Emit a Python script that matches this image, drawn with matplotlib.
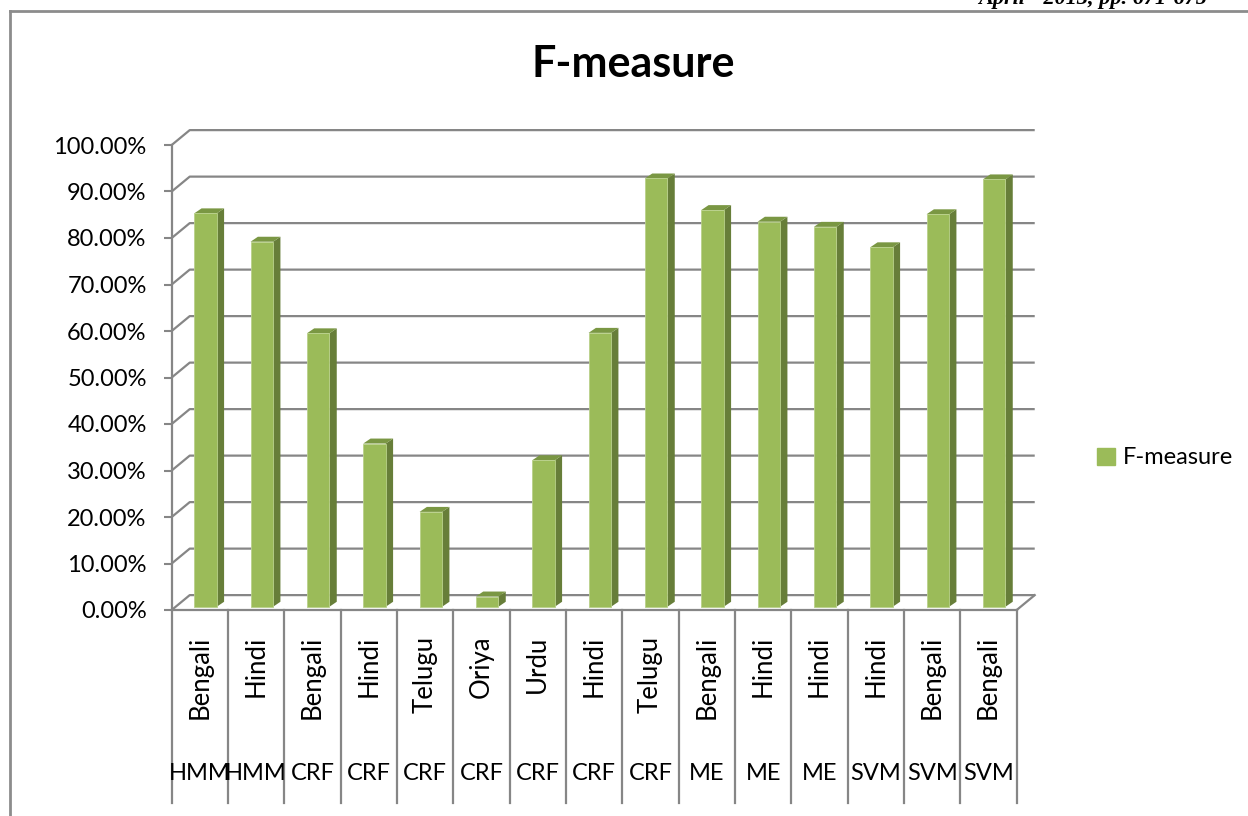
import matplotlib
matplotlib.use("Agg")
import matplotlib.pyplot as plt
from matplotlib.patches import Polygon, Patch
from matplotlib.lines import Line2D

# data
languages = ["Bengali", "Hindi", "Bengali", "Hindi", "Telugu", "Oriya", "Urdu", "Hindi",
             "Telugu", "Bengali", "Hindi", "Hindi", "Hindi", "Bengali", "Bengali"]
methods = ["HMM", "HMM", "CRF", "CRF", "CRF", "CRF", "CRF", "CRF",
           "CRF", "ME", "ME", "ME", "SVM", "SVM", "SVM"]
fmeasure = [84.6, 78.5, 58.8, 35.1, 20.4, 2.2, 31.5, 58.9,
            92.1, 85.3, 82.8, 81.7, 77.3, 84.4, 91.9]
yticks = [0, 10, 20, 30, 40, 50, 60, 70, 80, 90, 100]

plt.rcParams["font.family"] = ["Lato", "DejaVu Sans"]

W, H = 1248, 816
fs = 17
fig = plt.figure(figsize=(W / 100, H / 100), dpi=100)
# front plane of the 3-d box: x 171.7..1016.7 px, y 610..145 px
ax = fig.add_axes([171.7 / W, 1 - 610 / H, 845 / W, 465 / H])
n = len(fmeasure)
ax.set_xlim(0, n)
ax.set_ylim(0, 100)
for s in ax.spines.values():
    s.set_visible(False)
ax.set_xticks([])
ax.set_yticks(yticks)
ax.set_yticklabels(["%.2f%%" % v for v in yticks], fontsize=fs)
ax.tick_params(axis="y", length=6, width=1.5, color="#868686", pad=12)
ax.patch.set_alpha(0)

grid = "#868686"
ddx, ddy = 0.32, 3.2      # depth of the box (category units, percent)
lw = 1.6

# back wall gridlines + side wall diagonals
for v in yticks:
    ax.plot([0, ddx, n + ddx], [v, v + ddy, v + ddy], color=grid, lw=lw,
            clip_on=False, zorder=1, solid_capstyle="butt")
# floor right edge and front edges
ax.plot([n, n + ddx], [0, ddy], color=grid, lw=lw, clip_on=False, zorder=1)
ax.plot([0, n], [0, 0], color=grid, lw=lw, clip_on=False, zorder=1)
ax.plot([0, 0], [0, 100], color=grid, lw=lw, clip_on=False, zorder=1)

# category separators below the floor
sep_bottom = -(803 - 610) / 4.65
for i in range(n + 1):
    ax.plot([i, i], [0, sep_bottom], color=grid, lw=lw, clip_on=False, zorder=1)

# 3-d looking columns
front_c, side_c, top_c = "#9BBB59", "#677E39", "#7A9743"
base = 0.7
bx, bw = 0.40, 0.40
sx, sy = 0.13, 1.07
for i, v in enumerate(fmeasure):
    x0, x1 = i + bx, i + bx + bw
    y0, y1 = base, base + v
    ax.add_patch(Polygon([(x1, y0), (x1 + sx, y0 + sy), (x1 + sx, y1 + sy), (x1, y1)],
                         closed=True, fc=side_c, ec="none", zorder=3, clip_on=False))
    ax.add_patch(Polygon([(x0, y1), (x1, y1), (x1 + sx, y1 + sy), (x0 + sx, y1 + sy)],
                         closed=True, fc=top_c, ec="none", zorder=3, clip_on=False))
    ax.add_patch(Polygon([(x0, y0), (x1, y0), (x1, y1), (x0, y1)],
                         closed=True, fc=front_c, ec="#B9D18A", lw=0.6, zorder=4,
                         clip_on=False))

# category labels
lang_y = -(636 - 610) / 4.65
meth_y = -(773 - 610) / 4.65
for i in range(n):
    ax.text(i + 0.5, lang_y, languages[i], rotation=90, ha="center", va="top",
            fontsize=18.5, clip_on=False)
    ax.text(i + 0.5, meth_y, methods[i], ha="center", va="center",
            fontsize=fs, clip_on=False)

fig.text(633.5 / W, 1 - 76.7 / H, "F-measure", ha="center", va="baseline",
         fontsize=31, fontweight="bold")

fig.legend(handles=[Patch(color=front_c, label="F-measure")], loc="center left",
           bbox_to_anchor=(1097 / W, 1 - 458 / H), frameon=False, fontsize=fs,
           handlelength=0.75, handleheight=0.75, handletextpad=0.35,
           borderpad=0, borderaxespad=0)

# page frame and cut-off header
frame = "#8C8C8C"
fig.add_artist(Line2D([9.5 / W, 1], [1 - 11 / H, 1 - 11 / H], color=frame, lw=2,
                      transform=fig.transFigure))
fig.add_artist(Line2D([9.5 / W, 9.5 / W], [0, 1 - 11 / H], color=frame, lw=2,
                      transform=fig.transFigure))
fig.text(1207 / W, 1 - 4 / H, "April - 2013, pp. 671-675", ha="right", va="baseline",
         fontsize=16, fontweight="bold", fontstyle="italic", family="Liberation Serif")

fig.savefig("out.png", dpi=100)
